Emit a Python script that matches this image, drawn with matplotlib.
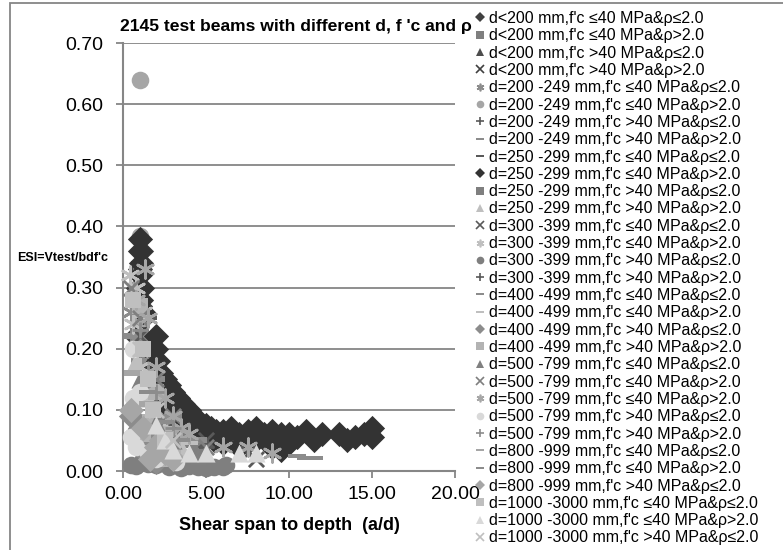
import matplotlib
matplotlib.use("Agg")
import matplotlib.pyplot as plt
from matplotlib.lines import Line2D
from matplotlib.patches import Rectangle

plt.rcParams['font.family'] = ['Liberation Sans', 'DejaVu Sans']

# legend labels (as in the original, incl. the repeated one)
labels = [
    "d<200 mm,f'c ≤40 MPa&ρ≤2.0", "d<200 mm,f'c ≤40 MPa&ρ>2.0",
    "d<200 mm,f'c >40 MPa&ρ≤2.0", "d<200 mm,f'c >40 MPa&ρ>2.0",
    "d=200 -249 mm,f'c ≤40 MPa&ρ≤2.0", "d=200 -249 mm,f'c ≤40 MPa&ρ>2.0",
    "d=200 -249 mm,f'c >40 MPa&ρ≤2.0", "d=200 -249 mm,f'c >40 MPa&ρ>2.0",
    "d=250 -299 mm,f'c ≤40 MPa&ρ≤2.0", "d=250 -299 mm,f'c ≤40 MPa&ρ>2.0",
    "d=250 -299 mm,f'c >40 MPa&ρ≤2.0", "d=250 -299 mm,f'c >40 MPa&ρ>2.0",
    "d=300 -399 mm,f'c ≤40 MPa&ρ≤2.0", "d=300 -399 mm,f'c ≤40 MPa&ρ>2.0",
    "d=300 -399 mm,f'c >40 MPa&ρ≤2.0", "d=300 -399 mm,f'c >40 MPa&ρ>2.0",
    "d=400 -499 mm,f'c ≤40 MPa&ρ≤2.0", "d=400 -499 mm,f'c ≤40 MPa&ρ>2.0",
    "d=400 -499 mm,f'c >40 MPa&ρ≤2.0", "d=400 -499 mm,f'c >40 MPa&ρ>2.0",
    "d=500 -799 mm,f'c ≤40 MPa&ρ≤2.0", "d=500 -799 mm,f'c ≤40 MPa&ρ>2.0",
    "d=500 -799 mm,f'c ≤40 MPa&ρ>2.0", "d=500 -799 mm,f'c >40 MPa&ρ≤2.0",
    "d=500 -799 mm,f'c >40 MPa&ρ>2.0", "d=800 -999 mm,f'c ≤40 MPa&ρ≤2.0",
    "d=800 -999 mm,f'c ≤40 MPa&ρ>2.0", "d=800 -999 mm,f'c >40 MPa&ρ≤2.0",
    "d=1000 -3000 mm,f'c ≤40 MPa&ρ≤2.0", "d=1000 -3000 mm,f'c ≤40 MPa&ρ>2.0",
    "d=1000 -3000 mm,f'c >40 MPa&ρ≤2.0",
]

# series data (a/d, ESI)
s01_x = [0.9, 1.0, 1.1, 1.0, 1.2, 0.8, 1.5, 2.0, 2.3]
s01_y = [0.30, 0.33, 0.36, 0.27, 0.25, 0.22, 0.18, 0.15, 0.12]
s02_x = [1.0, 1.1, 0.9, 1.5, 2.5]
s02_y = [0.29, 0.33, 0.22, 0.12, 0.06]
s03_x = [1.0, 1.5, 2.0, 3.0]
s03_y = [0.26, 0.20, 0.14, 0.09]
s04_x = [1.0, 2.0, 3.0, 4.0]
s04_y = [0.24, 0.16, 0.10, 0.06]
s05_x = [0.5, 1.0, 1.5, 2.5, 3.0, 3.5]
s05_y = [0.26, 0.22, 0.18, 0.12, 0.10, 0.08]
s06_x = [1.0, 1.0, 0.9, 1.2, 2.0, 3.0]
s06_y = [0.64, 0.385, 0.30, 0.25, 0.10, 0.05]
s07_x = [1.0, 1.5, 2.0, 3.0]
s07_y = [0.28, 0.20, 0.15, 0.08]
s08_x = [0.6, 1.0, 1.5, 2.5]
s08_y = [0.22, 0.18, 0.12, 0.07]
s09_x = [1.0, 1.5, 2.0, 3.0]
s09_y = [0.34, 0.25, 0.18, 0.10]
s10_x = [1.0, 1.05, 1.1, 1.0, 1.15, 1.1, 1.2, 2.0, 2.0, 2.1, 2.3, 2.5, 2.8,
         3.0, 3.3, 3.6, 4.0, 4.3, 4.6, 5.0, 5.3, 5.6, 6.0, 6.5, 7.0, 7.5,
         8.0, 8.5, 9.0, 9.5, 10.0, 10.5, 11.0, 11.5, 12.0, 13.0, 13.5, 14.0,
         14.5, 15.0, 15.0, 3.0, 4.0, 5.0, 6.0, 7.0, 8.0, 9.0, 2.5, 3.0, 3.5,
         4.0, 4.5, 3.5, 5.5, 9.5, 10.0, 2.2, 2.6, 3.2, 3.8, 4.2, 4.8]
s10_y = [0.38, 0.36, 0.34, 0.32, 0.30, 0.28, 0.26, 0.22, 0.20, 0.18, 0.16,
         0.15, 0.14, 0.13, 0.12, 0.11, 0.10, 0.09, 0.08, 0.075, 0.07, 0.065,
         0.065, 0.07, 0.06, 0.065, 0.07, 0.06, 0.065, 0.06, 0.06, 0.055,
         0.065, 0.05, 0.06, 0.06, 0.05, 0.055, 0.06, 0.07, 0.055, 0.08,
         0.065, 0.055, 0.045, 0.04, 0.05, 0.04, 0.12, 0.11, 0.09, 0.08,
         0.065, 0.06, 0.05, 0.035, 0.045, 0.14, 0.11, 0.095, 0.07, 0.06, 0.05]
s11_x = [1.0, 1.5, 2.5, 3.5, 4.5]
s11_y = [0.20, 0.14, 0.08, 0.05, 0.04]
s12_x = [0.8, 1.5, 2.5, 3.5]
s12_y = [0.18, 0.12, 0.07, 0.04]
s13_x = [1.0, 2.0, 3.0, 5.0, 7.5, 8.0]
s13_y = [0.22, 0.14, 0.08, 0.05, 0.03, 0.02]
s14_x = [0.4, 0.8, 1.2, 1.0, 0.6]
s14_y = [0.32, 0.30, 0.26, 0.17, 0.24]
s15_x = [0.5, 0.8, 1.2, 2.0, 2.8, 3.5, 4.0, 4.5, 5.0, 5.5, 6.0, 6.2, 3.0, 1.5]
s15_y = [0.010, 0.008, 0.020, 0.010, 0.006, 0.005, 0.008, 0.006, 0.005,
         0.006, 0.006, 0.010, 0.015, 0.012]
s16_x = [1.0, 2.0, 3.5, 5.0]
s16_y = [0.20, 0.12, 0.07, 0.04]
s17_x = [1.0, 2.0, 3.0, 4.5]
s17_y = [0.26, 0.15, 0.09, 0.05]
s18_x = [0.8, 1.5, 2.5, 4.0]
s18_y = [0.20, 0.12, 0.08, 0.045]
s19_x = [0.5, 1.0, 1.5, 2.5, 3.0, 0.7, 1.2, 2.0]
s19_y = [0.09, 0.07, 0.05, 0.03, 0.02, 0.06, 0.035, 0.015]
s20_x = [1.0, 1.5, 1.8, 2.0, 2.5, 3.0, 2.2, 1.2, 1.6, 2.8]
s20_y = [0.27, 0.15, 0.10, 0.13, 0.06, 0.04, 0.02, 0.06, 0.08, 0.055]
s21_x = [1.0, 2.0, 3.0, 4.5]
s21_y = [0.15, 0.08, 0.05, 0.025]
s22_x = [0.5, 1.0, 2.0, 3.0, 5.0]
s22_y = [0.30, 0.25, 0.15, 0.09, 0.04]
s23_x = [0.8, 1.5, 2.0, 2.5, 3.0, 3.5, 4.0, 6.0, 7.5, 9.0, 1.3]
s23_y = [0.28, 0.25, 0.17, 0.12, 0.09, 0.07, 0.06, 0.04, 0.04, 0.03, 0.33]
s24_x = [0.6, 0.6, 1.0, 0.8, 1.5, 2.0, 3.2, 0.5]
s24_y = [0.20, 0.12, 0.13, 0.04, 0.03, 0.02, 0.015, 0.055]
s25_x = [1.0, 2.0, 3.0]
s25_y = [0.23, 0.13, 0.07]
s26_x = [0.6, 1.5, 2.5]
s26_y = [0.16, 0.11, 0.06]
s27_x = [1.5, 2.5, 3.5, 10.5, 11.0, 11.5]
s27_y = [0.13, 0.08, 0.05, 0.025, 0.022, 0.022]
s28_x = [0.5, 1.2, 2.0, 2.5, 3.0, 1.6, 2.3]
s28_y = [0.10, 0.07, 0.04, 0.03, 0.02, 0.02, 0.05]
s29_x = [0.6, 1.2, 1.5, 1.8, 2.5]
s29_y = [0.28, 0.20, 0.15, 0.10, 0.05]
s30_x = [2.0, 2.5, 3.0, 4.0, 5.0, 7.0, 8.0]
s30_y = [0.075, 0.05, 0.035, 0.03, 0.03, 0.03, 0.03]
s31_x = [1.0, 2.0, 3.0]
s31_y = [0.20, 0.10, 0.05]

xs = [s01_x, s02_x, s03_x, s04_x, s05_x, s06_x, s07_x, s08_x, s09_x, s10_x,
      s11_x, s12_x, s13_x, s14_x, s15_x, s16_x, s17_x, s18_x, s19_x, s20_x,
      s21_x, s22_x, s23_x, s24_x, s25_x, s26_x, s27_x, s28_x, s29_x, s30_x, s31_x]
ys = [s01_y, s02_y, s03_y, s04_y, s05_y, s06_y, s07_y, s08_y, s09_y, s10_y,
      s11_y, s12_y, s13_y, s14_y, s15_y, s16_y, s17_y, s18_y, s19_y, s20_y,
      s21_y, s22_y, s23_y, s24_y, s25_y, s26_y, s27_y, s28_y, s29_y, s30_y, s31_y]

# excel-style marker cycle
short_dash = [(-0.6, -0.22), (0.6, -0.22), (0.6, 0.22), (-0.6, 0.22)]
long_dash = [(-1, -0.2), (1, -0.2), (1, 0.2), (-1, 0.2)]
asterisk = (6, 2, 0)
cycle = ['D', 's', '^', 'x', asterisk, 'o', '+', short_dash, long_dash]
colors = ['#404040', '#7f7f7f', '#4d4d4d', '#404040', '#8c8c8c', '#a6a6a6',
          '#595959', '#8c8c8c', '#595959', '#333333', '#7f7f7f', '#bfbfbf',
          '#595959', '#bfbfbf', '#7f7f7f', '#595959', '#8c8c8c', '#bfbfbf',
          '#8c8c8c', '#b3b3b3', '#808080', '#7f7f7f', '#a6a6a6', '#d9d9d9',
          '#8c8c8c', '#a6a6a6', '#8c8c8c', '#a6a6a6', '#bfbfbf', '#d9d9d9',
          '#bfbfbf']
sizes = {'D': 165, 's': 130, '^': 170, 'x': 120, 'o': 160, '+': 140}

fig = plt.figure(figsize=(7.83, 5.5), dpi=100)
ax = fig.add_axes([123 / 783, 1 - 471 / 550, 332 / 783, 428 / 550])

handles = []
for i in range(len(labels)):
    m = cycle[i % 9]
    c = colors[i]
    if isinstance(m, str):
        s = sizes[m]
    elif m is asterisk:
        s = 160
    else:
        s = 170
    lined = (m in ('x', '+')) if isinstance(m, str) else (m is asterisk)
    lw = 2.0 if lined else 0
    ax.scatter(xs[i], ys[i], marker=m, s=s, c=c, linewidths=lw,
               edgecolors=c, clip_on=False, zorder=3 + i * 0.01)
    handles.append(Line2D([], [], ls='none', marker=m, color=c, markersize=5.5,
                          markeredgewidth=1.2 if lined else 0))

ax.set_xlim(0, 20)
ax.set_ylim(0, 0.70)
ax.set_xticks([0, 5, 10, 15, 20])
ax.set_yticks([0, 0.1, 0.2, 0.3, 0.4, 0.5, 0.6, 0.7])
ax.xaxis.set_major_formatter(matplotlib.ticker.FormatStrFormatter('%.2f'))
ax.yaxis.set_major_formatter(matplotlib.ticker.FormatStrFormatter('%.2f'))
ax.tick_params(labelsize=14, colors='#868686', labelcolor='black', length=5, width=1.3)
ax.tick_params(axis='y', pad=9)
ax.tick_params(axis='x', pad=6)
ax.grid(axis='y', color='#868686', lw=1.3)
ax.set_axisbelow(True)
for sp in ['top', 'right']:
    ax.spines[sp].set_visible(False)
for sp in ['left', 'bottom']:
    ax.spines[sp].set_color('#868686')
    ax.spines[sp].set_linewidth(1.5)

fig.text(296 / 783, 1 - 26 / 550, "2145 test beams with different d, f 'c and ρ",
         ha='center', va='center', fontsize=12.6, fontweight='bold')
fig.text(17 / 783, 1 - 258 / 550, "ESI=Vtest/bdf'c", ha='left', va='center',
         fontsize=9, fontweight='bold')
fig.text(289 / 783, 1 - 525 / 550, "Shear span to depth  (a/d)", ha='center',
         va='center', fontsize=13, fontweight='bold')

fig.legend(handles, labels, loc='upper left', bbox_to_anchor=(474 / 783, 1 - 11 / 550),
           frameon=False, fontsize=11.5, labelspacing=0.145, handlelength=0.7,
           handletextpad=0.25, borderaxespad=0, borderpad=0)

# outer chart frame
fig.patches.append(Rectangle((10 / 783, -0.1), 1.2, 1.1 - 3 / 550,
                             transform=fig.transFigure, fill=False,
                             edgecolor='#868686', lw=1.3))

fig.savefig("out.png", dpi=100)
